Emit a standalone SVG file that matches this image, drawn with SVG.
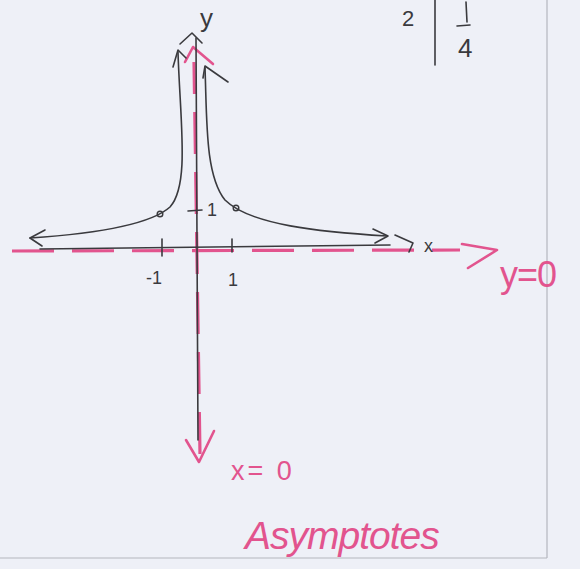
<svg xmlns="http://www.w3.org/2000/svg" width="580" height="569" viewBox="0 0 580 569">
<style>
.ink{fill:none;stroke:#3a3a3e;stroke-width:1.6;stroke-linecap:round;stroke-linejoin:round}
.pk{fill:none;stroke:#e2548e;stroke-width:2.6;stroke-linecap:round;stroke-linejoin:round}
.pkd{fill:none;stroke:#e2548e;stroke-width:3.2;stroke-dasharray:42 18}
.paper{fill:none;stroke:#b4b6be;stroke-width:1.2}
.t{font-family:"Liberation Sans",Arial,sans-serif;fill:#3a3a3e}
.tp{font-family:"Liberation Sans",Arial,sans-serif;fill:#e2548e}
</style>
<rect width="580" height="569" fill="#eef0f7"/>
<g id="paper">
<line class="paper" x1="547" y1="0" x2="547" y2="558"/>
<line class="paper" x1="0" y1="558" x2="547" y2="558"/>
</g>
<g id="corner-note">
<text class="t" x="402" y="26" font-size="22" fill="#555">2</text>
<line class="ink" x1="435" y1="0" x2="435" y2="65" stroke="#555"/>
<line class="ink" x1="466" y1="2" x2="467" y2="22" stroke="#555"/>
<line class="ink" x1="457" y1="26" x2="470" y2="25" stroke="#555"/>
<text class="t" x="458" y="57" font-size="26" fill="#555">4</text>
</g>
<g id="asymptotes">
<line class="pkd" x1="12" y1="251" x2="460" y2="250"/>
<polyline class="pk" points="462,244 497,250 468,268"/>
<line class="pkd" x1="194" y1="62" x2="200" y2="455" stroke-dashoffset="10"/>
<polyline class="pk" points="185,62 193,47 213,64"/>
<polyline class="pk" points="186,440 199,462 214,431"/>
<text class="tp" x="500" y="287" font-size="36" letter-spacing="-1">y=0</text>
<text class="tp" x="231" y="480" font-size="27" letter-spacing="3">x= 0</text>
<text class="tp" x="245" y="549" font-size="39" font-style="italic" letter-spacing="-1">Asymptotes</text>
</g>
<g id="axes">
<line class="ink" x1="40" y1="249" x2="390" y2="245"/>
<line class="ink" x1="196" y1="38" x2="198" y2="440"/>
<polyline class="ink" points="180,44 192,33 202,43"/>
<polyline class="ink" points="395,235 413,243 409,252"/>
<polyline class="ink" points="373,229 388,236 375,243"/>
<line class="ink" x1="162" y1="239" x2="162" y2="256"/>
<line class="ink" x1="232" y1="239" x2="232" y2="252"/>
<line class="ink" x1="188" y1="211" x2="202" y2="210"/>
<text class="t" x="424" y="252" font-size="18" fill="#666">x</text>
<text class="t" x="200" y="27" font-size="26">y</text>
<text class="t" x="146" y="284" font-size="18">-1</text>
<text class="t" x="228" y="286" font-size="18">1</text>
<text class="t" x="207" y="216" font-size="18">1</text>
</g>
<g id="curve">
<path class="ink" d="M178,52 C180,120 190,185 170,207 C150,225 90,234 30,238"/>
<polyline class="ink" points="173,67 178,50 186,58"/>
<path class="ink" d="M205,68 C207,120 205,175 225,200 C250,225 320,232 387,236"/>
<polyline class="ink" points="203,78 205,66 228,82"/>
<polyline class="ink" points="45,230 30,238 42,246"/>
<circle cx="160" cy="214" r="2.8" fill="none" stroke="#3a3a3e" stroke-width="1.4"/>
<circle cx="236" cy="208" r="2.8" fill="none" stroke="#3a3a3e" stroke-width="1.4"/>
</g>
</svg>
